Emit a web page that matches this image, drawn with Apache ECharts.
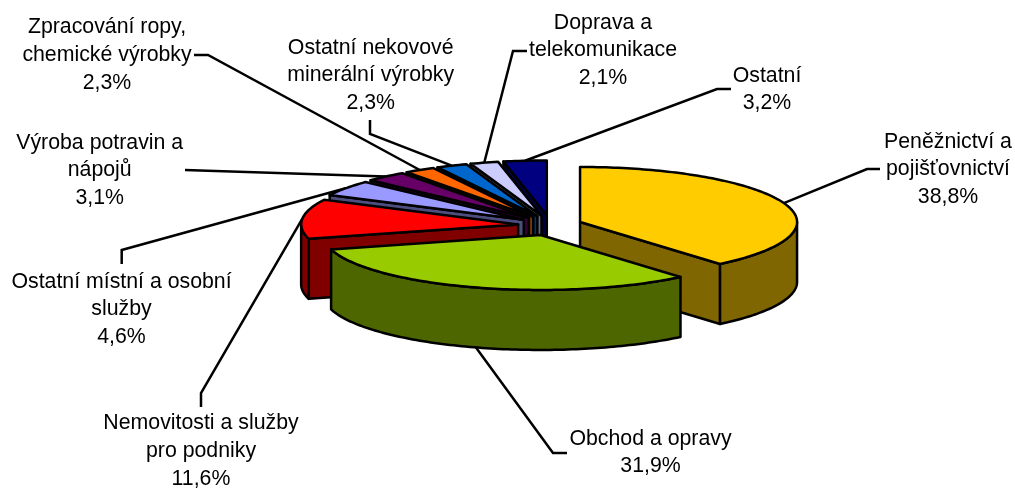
<!DOCTYPE html>
<html>
<head>
<meta charset="utf-8">
<style>html,body{margin:0;padding:0;background:#fff}#chart{width:1015px;height:489px}</style>
<script src="https://cdn.jsdelivr.net/npm/echarts@6/dist/echarts.min.js"></script>
</head>
<body>
<div id="chart"></div>
<script>
// Data (clockwise from 12 o'clock)
const categories = [
  'Peněžnictví a\npojišťovnictví',
  'Obchod a opravy',
  'Nemovitosti a služby\npro podniky',
  'Ostatní místní a osobní\nslužby',
  'Výroba potravin a\nnápojů',
  'Zpracování ropy,\nchemické výrobky',
  'Ostatní nekovové\nminerální výrobky',
  'Doprava a\ntelekomunikace',
  'Ostatní'
];
const shares = [38.8, 31.9, 11.6, 4.6, 3.1, 2.3, 2.3, 2.1, 3.2];

// Styles
const topColors  = ['#FFCC00','#99CC00','#FF0000','#9999FF','#660066','#FF6600','#0066CC','#CCCCFF','#000080'];
const sideColors = ['#806600','#4D6600','#800000','#4D4D80','#330033','#803300','#003366','#666680','#000040'];

// Layout of the tilted, exploded pie
const pie = { cx: 550, cy: 225.4, rx: 217, ry: 55, depth: 60, explodeX: 32, explodeY: 10 };
const FONT = '21.3px "Liberation Sans", Arial, sans-serif';
const LINE_H = 27.7;
const STROKE = 2.5;
// label centre, then the leader's two outer points
const labelCentres = [[948,169.5],[650.5,452.5],[201,451],[121.5,309.5],[99.7,170.5],[107,55],[370.7,75.5],[603,50.5],[767,89.5]];
const leaderElbows = [
  [[867,169],[880,169]],
  [[553,453],[567,453]],
  [[201,393],[201,407]],
  [[121.7,250],[121.7,264]],
  [[200,170.5],[185,170]],
  [[208,55],[194,55]],
  [[370,134],[370,120]],
  [[513,51],[527,51]],
  [[717,89],[731,89]]
];

const total = shares.reduce((a, b) => a + b, 0);
const starts = [];
shares.reduce((acc, v, i) => { starts[i] = acc; return acc + v; }, 0);
const toAngle = v => v / total * 2 * Math.PI;

function centreOf(i) {
  const mid = toAngle(starts[i] + shares[i] / 2);
  return [pie.cx + Math.sin(mid) * pie.explodeX, pie.cy - Math.cos(mid) * pie.explodeY];
}
function rimPoint(c, a, dy) {
  return [c[0] + Math.sin(a) * pie.rx, c[1] - Math.cos(a) * pie.ry + (dy || 0)];
}
function arc(c, a0, a1, dy) {
  const n = Math.max(2, Math.ceil(Math.abs(a1 - a0) / 0.02));
  const pts = [];
  for (let k = 0; k <= n; k++) pts.push(rimPoint(c, a0 + (a1 - a0) * k / n, dy));
  return pts;
}
// back-to-front painting rank: farther up the screen first
const paintOrder = shares.map((_, i) => i).sort((a, b) => centreOf(a)[1] - centreOf(b)[1]);

function renderSlice(params, api) {
  const i = params.dataIndex;
  const a0 = toAngle(starts[i]);
  const a1 = toAngle(starts[i] + api.value(0));
  const c = centreOf(i);
  const base = 10 + paintOrder.indexOf(i) * 5;
  const d = pie.depth;
  const HALF = Math.PI, Q = Math.PI / 2;
  const edge = { stroke: '#000', lineWidth: STROKE, lineJoin: 'round' };
  const poly = (points, fill, z2) => ({
    type: 'polygon', z2, shape: { points }, style: Object.assign({ fill }, edge)
  });
  const kids = [];
  // radial walls facing the viewer
  if (a0 > HALF && a0 < 2 * HALF) {
    const p = rimPoint(c, a0);
    kids.push(poly([c, p, [p[0], p[1] + d], [c[0], c[1] + d]], sideColors[i], base));
  }
  if (a1 > 0 && a1 < HALF) {
    const p = rimPoint(c, a1);
    kids.push(poly([c, p, [p[0], p[1] + d], [c[0], c[1] + d]], sideColors[i], base));
  }
  // outer wall, the front half of the rim only
  const w0 = Math.max(a0, Q), w1 = Math.min(a1, 3 * Q);
  if (w1 > w0) {
    kids.push(poly(arc(c, w0, w1, 0).concat(arc(c, w1, w0, d)), sideColors[i], base + 1));
  }
  // top face
  kids.push(poly([c].concat(arc(c, a0, a1, 0)), topColors[i], base + 2));

  // leader line
  const mid = (a0 + a1) / 2;
  const anchor = rimPoint(c, mid, Math.cos(mid) < 0 ? d : 0);
  kids.push({
    type: 'polyline', z2: 1,
    shape: { points: [anchor].concat(leaderElbows[i]) },
    style: { stroke: '#000', lineWidth: STROKE, fill: null, lineJoin: 'miter' }
  });
  // label
  kids.push({
    type: 'text', z2: 100,
    style: {
      text: categories[i] + '\n' + api.value(0).toFixed(1).replace('.', ',') + '%',
      x: labelCentres[i][0], y: labelCentres[i][1],
      align: 'center', verticalAlign: 'middle',
      font: FONT, lineHeight: LINE_H, fill: '#000'
    }
  });
  return { type: 'group', children: kids };
}

const chart = echarts.init(document.getElementById('chart'), null, { renderer: 'canvas' });
chart.setOption({
  animation: false,
  backgroundColor: '#fff',
  series: [{
    type: 'custom',
    coordinateSystem: 'none',
    renderItem: renderSlice,
    data: shares.map((v, i) => ({ name: categories[i], value: [v] }))
  }]
});
</script>
</body>
</html>
